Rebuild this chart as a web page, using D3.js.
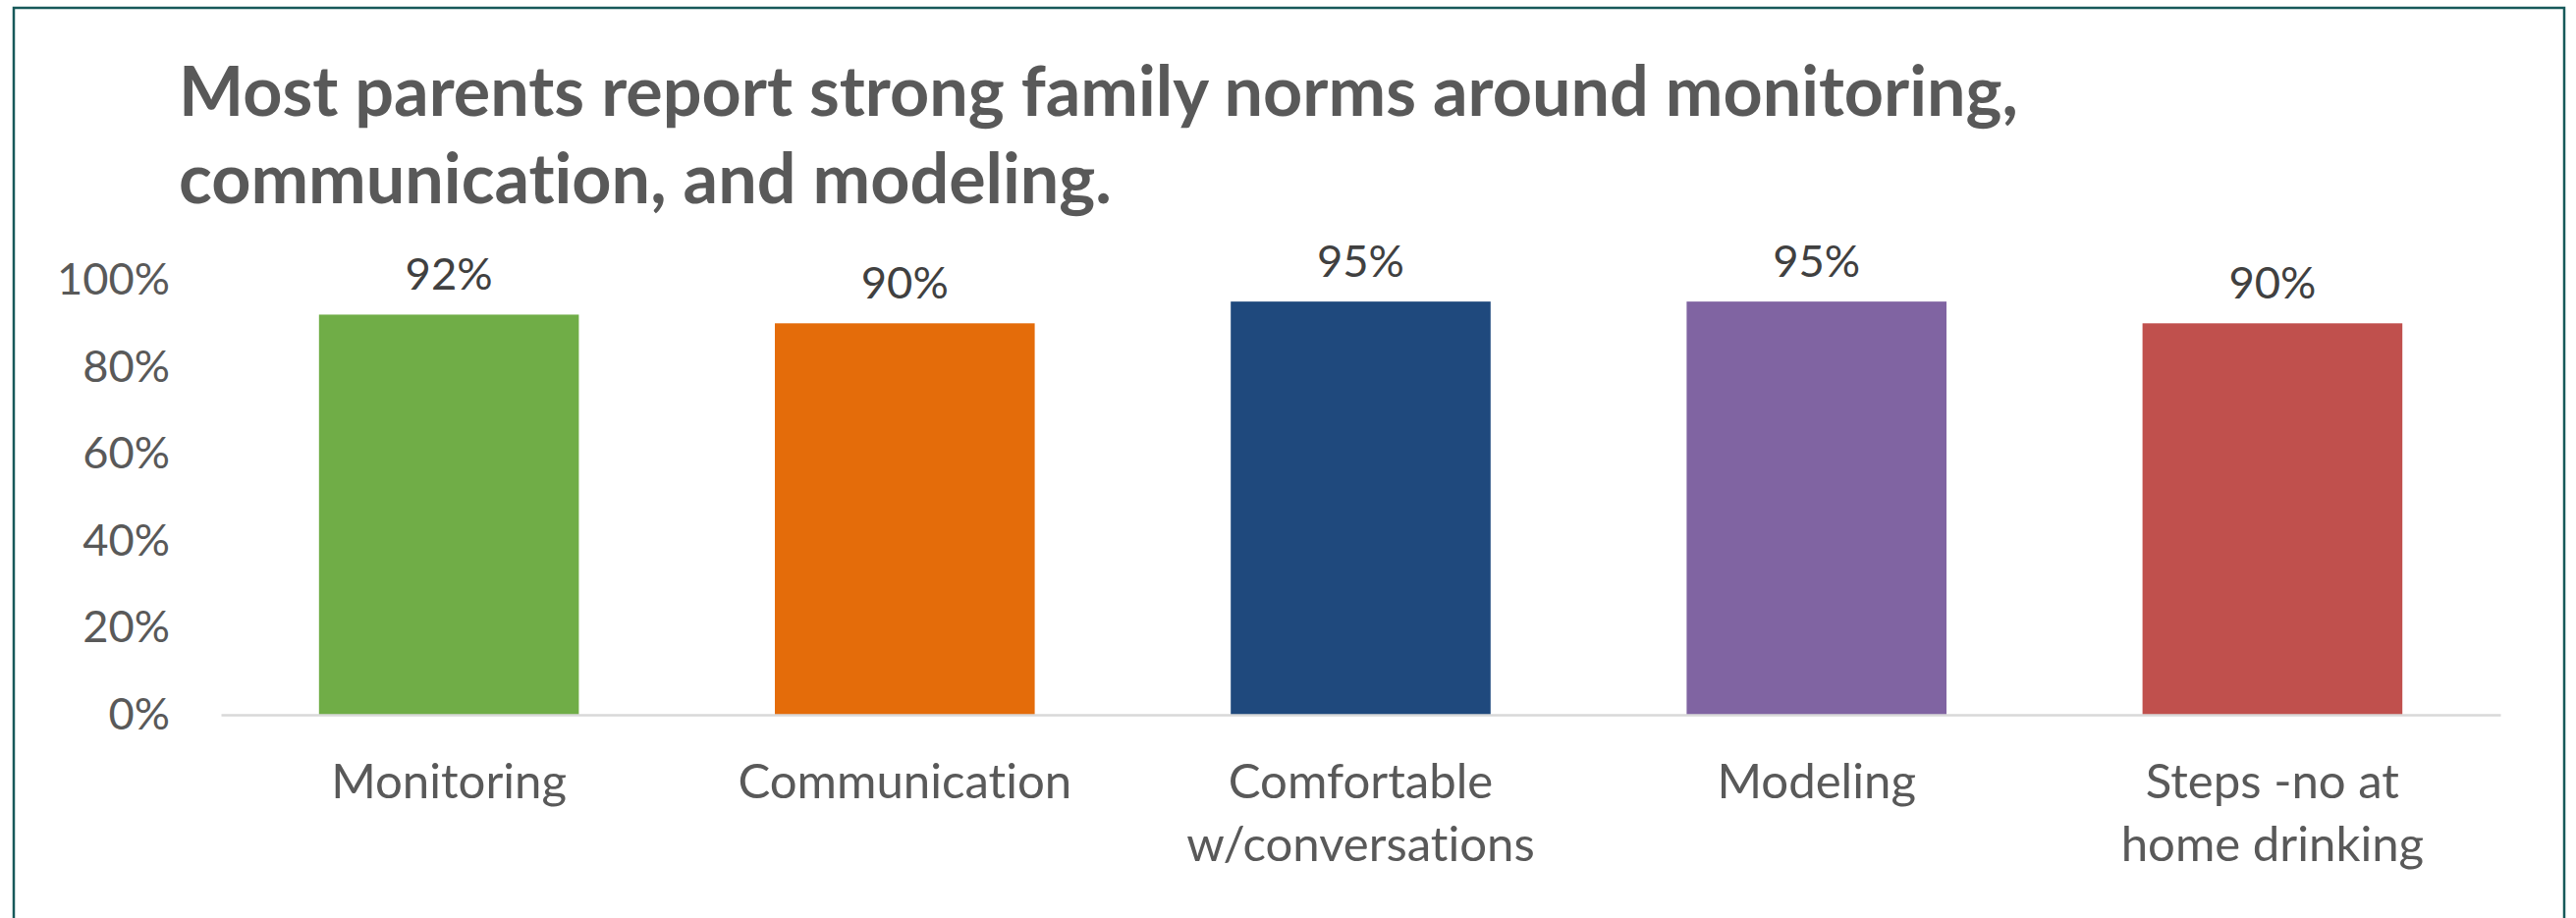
<!DOCTYPE html>
<html>
<head>
<meta charset="utf-8">
<script src="https://cdn.jsdelivr.net/npm/d3@7"></script>
<style>
  html, body { margin: 0; padding: 0; background: #fff; }
  svg { display: block; }
  text { font-family: Lato, Carlito, Calibri, sans-serif; font-variant-ligatures: none; font-feature-settings: "liga" 0, "clig" 0; }
</style>
</head>
<body>
<svg id="chart" width="2623" height="935"></svg>
<script>
// ---- data ----
const titleLines = [
  "Most parents report strong family norms around monitoring,",
  "communication, and modeling."
];
const categories = ["Monitoring", "Communication", "Comfortable w/conversations", "Modeling", "Steps -no at home drinking"];
const categoryLines = [["Monitoring"], ["Communication"], ["Comfortable", "w/conversations"], ["Modeling"], ["Steps -no at", "home drinking"]];
const values = [0.92, 0.90, 0.95, 0.95, 0.90];
const colors = ["#70AD47", "#E46C0A", "#1F497D", "#8064A2", "#C0504D"];
const yTicks = [0, 0.2, 0.4, 0.6, 0.8, 1.0];

// ---- layout ----
const plot = { left: 225, right: 2546, top: 285, bottom: 728 };

const svg = d3.select("#chart");

// measure helper: font size so that text has target width
function fitSize(str, weight, target) {
  const t = svg.append("text").attr("font-size", 100).attr("font-weight", weight).text(str);
  const w = t.node().getComputedTextLength();
  t.remove();
  return 100 * target / w;
}

// frame
svg.append("rect")
  .attr("x", 14).attr("y", 8)
  .attr("width", 2611 - 14).attr("height", 960)
  .attr("fill", "#fff")
  .attr("stroke", "#17595A").attr("stroke-width", 2.5);

// title
const titleSize = fitSize(titleLines[0], 700, 1873);
svg.append("g").selectAll("text").data(titleLines).join("text")
  .attr("x", 182)
  .attr("y", (d, i) => 118 + i * 89)
  .attr("font-size", titleSize)
  .attr("font-weight", 700)
  .attr("fill", "#595959")
  .text(d => d);

// scales
const x = d3.scaleBand().domain(categories).range([plot.left, plot.right]).paddingInner(0.43).paddingOuter(0.215);
const y = d3.scaleLinear().domain([0, 1]).range([plot.bottom, plot.top]);

// y axis (labels only)
const tickSize = fitSize("100%", 400, 115);
const yAxis = svg.append("g")
  .attr("transform", `translate(${plot.left},0)`)
  .call(d3.axisLeft(y).tickValues(yTicks).tickFormat(d3.format(".0%")).tickSize(0).tickPadding(52));
yAxis.select(".domain").remove();
yAxis.selectAll("text")
  .attr("font-size", tickSize)
  .attr("font-family", "Lato, Carlito, Calibri, sans-serif")
  .attr("fill", "#595959");

// bars
svg.append("g").selectAll("rect").data(values).join("rect")
  .attr("x", (d, i) => x(categories[i]))
  .attr("y", d => y(d))
  .attr("width", x.bandwidth())
  .attr("height", d => y(0) - y(d))
  .attr("fill", (d, i) => colors[i]);

// x axis line
const xAxis = svg.append("g")
  .attr("transform", `translate(0,${plot.bottom})`)
  .call(d3.axisBottom(x).tickSize(0).tickFormat(""));
xAxis.select(".domain").attr("stroke", "#D9D9D9").attr("stroke-width", 2.5);
xAxis.selectAll(".tick text").remove();

// category labels
const catSize = fitSize("Monitoring", 400, 240);
const catG = svg.append("g").selectAll("text").data(categories).join("text")
  .attr("text-anchor", "middle")
  .attr("font-size", catSize)
  .attr("fill", "#595959");
catG.each(function(d, i) {
  d3.select(this).selectAll("tspan").data(categoryLines[i]).join("tspan")
    .attr("x", x(d) + x.bandwidth() / 2)
    .attr("y", (l, j) => 813 + j * 64)
    .text(l => l);
});

// data labels
const dlSize = fitSize("92%", 400, 89);
svg.append("g").selectAll("text").data(values).join("text")
  .attr("x", (d, i) => x(categories[i]) + x.bandwidth() / 2)
  .attr("y", d => y(d) - 25)
  .attr("text-anchor", "middle")
  .attr("font-size", dlSize)
  .attr("fill", "#404040")
  .text(d => d3.format(".0%")(d));
</script>
</body>
</html>
